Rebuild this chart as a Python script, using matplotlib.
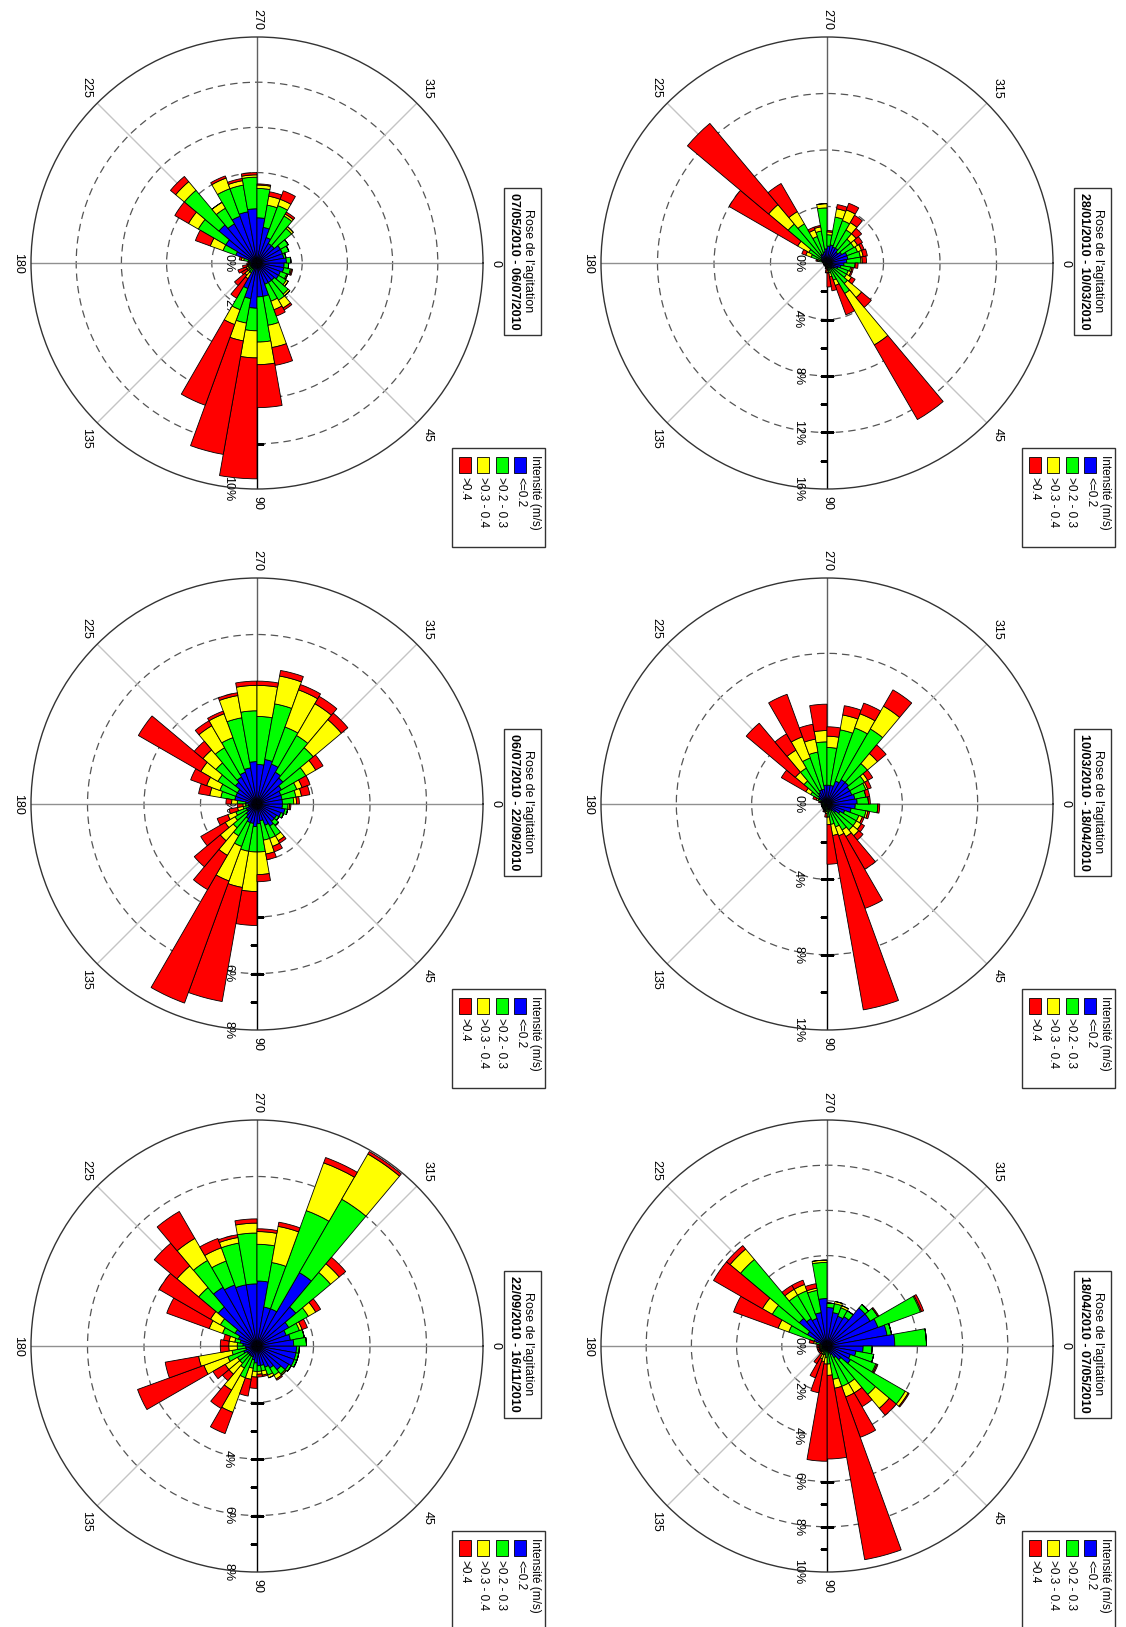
import numpy as np
import matplotlib
matplotlib.use("Agg")
import matplotlib.pyplot as plt
import matplotlib.transforms as mtransforms
from matplotlib.patches import Rectangle

plt.rcParams['font.family'] = ['Liberation Sans', 'DejaVu Sans']

# ---- data: % of time per 10 degree sector, split by intensity class ----
directions = np.arange(5, 360, 10)          # sector centres (deg)
classes = ["<=0.2", ">0.2 - 0.3", ">0.3 - 0.4", ">0.4"]
colors = ["#0000ff", "#00ff00", "#ffff00", "#ff0000"]
periods = ["28/01/2010 - 10/03/2010", "10/03/2010 - 18/04/2010", "18/04/2010 - 07/05/2010",
           "07/05/2010 - 06/07/2010", "06/07/2010 - 22/09/2010", "22/09/2010 - 16/11/2010"]
rmax_list = [16, 12, 10, 10, 8, 8]
ring_step = [4, 4, 2, 2, 2, 2]

p1_blue = [1.2, 1.0, 0.8, 0.6, 0.5, 0.5, 0.3, 0.2, 0.2, 0.3, 0.2, 0.2, 0.2, 0.2, 0.2, 0.2, 0.2, 0.2,
           0.2, 0.3, 0.4, 0.5, 0.6, 0.7, 0.7, 0.8, 1.0, 1.2, 1.3, 1.2, 1.2, 1.0, 1.2, 1.5, 1.5, 1.4]
p1_green = [0.8, 0.7, 0.8, 1.0, 1.4, 2.0, 1.0, 0.5, 0.3, 0.1, 0.1, 0.05, 0.05, 0.05, 0.05, 0.05, 0.05, 0.05,
            0.1, 0.3, 0.8, 1.0, 3.0, 2.5, 1.3, 1.5, 2.9, 0.8, 2.0, 2.0, 1.5, 1.2, 1.0, 0.8, 0.9, 1.0]
p1_yellow = [0.0, 0.1, 0.2, 0.4, 1.3, 4.2, 0.4, 0.3, 0.2, 0.0, 0.0, 0.0, 0.0, 0.0, 0.0, 0.0, 0.0, 0.0,
             0.0, 0.1, 0.4, 0.9, 1.8, 1.0, 0.5, 0.3, 0.3, 0.2, 0.6, 0.8, 0.6, 0.5, 0.3, 0.3, 0.2, 0.1]
p1_red = [0.2, 0.1, 0.1, 0.3, 0.9, 6.1, 2.2, 1.0, 1.0, 0.3, 0.1, 0.0, 0.0, 0.0, 0.0, 0.0, 0.0, 0.0,
          0.0, 0.1, 0.3, 5.6, 7.5, 2.3, 0.2, 0.1, 0.0, 0.1, 0.3, 0.5, 0.6, 0.5, 0.4, 0.2, 0.3, 0.3]

p2_blue = [1.5, 1.3, 1.0, 0.8, 0.6, 0.4, 0.3, 0.3, 0.2, 0.2, 0.2, 0.2, 0.2, 0.2, 0.2, 0.2, 0.2, 0.2,
           0.2, 0.2, 0.3, 0.5, 0.6, 0.7, 0.8, 0.8, 1.0, 1.0, 1.0, 1.3, 1.5, 1.5, 1.4, 1.4, 1.5, 1.6]
p2_green = [1.2, 0.8, 0.8, 1.0, 1.2, 1.2, 1.0, 0.8, 0.5, 0.2, 0.1, 0.1, 0.1, 0.1, 0.1, 0.1, 0.1, 0.1,
            0.1, 0.1, 0.2, 0.5, 1.0, 1.5, 1.8, 2.0, 2.3, 2.0, 3.0, 3.0, 3.1, 1.3, 0.9, 0.8, 0.6, 0.6]
p2_yellow = [0.0, 0.1, 0.2, 0.3, 0.4, 0.4, 0.5, 0.6, 0.4, 0.1, 0.05, 0.05, 0.0, 0.0, 0.0, 0.0, 0.0, 0.0,
             0.0, 0.05, 0.1, 0.3, 0.6, 1.1, 1.2, 0.7, 0.6, 0.6, 0.8, 0.8, 1.4, 0.7, 0.2, 0.1, 0.0, 0.0]
p2_red = [0.1, 0.1, 0.1, 0.2, 0.3, 2.0, 4.1, 9.4, 2.1, 0.2, 0.1, 0.1, 0.05, 0.0, 0.0, 0.0, 0.0, 0.0,
          0.0, 0.1, 0.2, 1.5, 3.4, 1.0, 2.4, 0.8, 1.4, 0.5, 0.5, 0.6, 1.0, 0.6, 0.3, 0.2, 0.2, 0.1]

p3_blue = [1.6, 1.3, 1.1, 1.2, 0.8, 0.6, 0.4, 0.3, 0.2, 0.2, 0.2, 0.2, 0.2, 0.2, 0.2, 0.2, 0.2, 0.2,
           0.2, 0.3, 0.6, 1.0, 1.6, 1.4, 1.3, 1.5, 2.1, 1.7, 1.5, 1.4, 1.5, 2.2, 2.2, 2.4, 2.7, 3.0]
p3_green = [0.4, 0.8, 1.2, 2.8, 2.0, 1.3, 1.5, 1.2, 0.6, 0.3, 0.2, 0.2, 0.1, 0.1, 0.1, 0.1, 0.1, 0.1,
            0.1, 0.2, 1.2, 1.8, 3.4, 1.2, 1.3, 1.0, 1.6, 0.2, 0.4, 0.4, 0.3, 0.2, 0.4, 2.0, 0.2, 1.4]
p3_yellow = [0.0, 0.0, 0.05, 0.15, 0.8, 0.5, 0.5, 0.4, 0.5, 0.3, 0.3, 0.2, 0.1, 0.05, 0.05, 0.05, 0.05, 0.05,
             0.05, 0.1, 0.5, 0.5, 0.6, 0.3, 0.3, 0.1, 0.1, 0.0, 0.1, 0.1, 0.0, 0.0, 0.0, 0.05, 0.0, 0.0]
p3_red = [0.0, 0.0, 0.05, 0.05, 0.4, 0.7, 1.9, 7.7, 3.7, 4.3, 1.4, 0.9, 0.5, 0.1, 0.1, 0.1, 0.1, 0.1,
          0.1, 0.2, 2.1, 2.5, 0.2, 0.2, 0.2, 0.2, 0.0, 0.0, 0.0, 0.0, 0.0, 0.0, 0.05, 0.1, 0.0, 0.0]

p4_blue = [1.2, 1.2, 1.1, 1.1, 1.0, 1.0, 1.0, 1.5, 1.5, 2.0, 1.6, 1.2, 0.3, 0.3, 0.3, 0.3, 0.3, 0.3,
           0.3, 0.4, 1.0, 1.6, 2.2, 2.0, 2.2, 2.3, 2.4, 2.0, 1.6, 1.2, 1.0, 1.0, 1.2, 1.2, 1.2, 1.3]
p4_green = [0.2, 0.3, 0.3, 0.4, 0.8, 0.9, 0.8, 1.3, 2.0, 1.0, 1.1, 1.0, 0.2, 0.2, 0.1, 0.1, 0.1, 0.05,
            0.05, 0.2, 0.6, 1.4, 2.0, 0.8, 1.3, 1.2, 1.4, 1.3, 1.0, 1.5, 1.4, 1.0, 0.4, 0.3, 0.1, 0.2]
p4_yellow = [0.0, 0.05, 0.05, 0.1, 0.1, 0.4, 0.4, 1.0, 1.0, 1.2, 0.8, 0.7, 0.3, 0.2, 0.1, 0.1, 0.05, 0.0,
             0.0, 0.1, 0.6, 0.5, 0.5, 0.3, 0.5, 0.2, 0.1, 0.15, 0.4, 0.3, 0.1, 0.1, 0.0, 0.0, 0.0, 0.0]
p4_red = [0.0, 0.05, 0.0, 0.0, 0.0, 0.1, 0.3, 0.8, 1.9, 5.35, 5.1, 3.8, 1.0, 0.6, 0.3, 0.4, 0.2, 0.1,
          0.05, 0.1, 0.7, 0.7, 0.3, 0.0, 0.1, 0.1, 0.1, 0.05, 0.2, 0.4, 0.1, 0.0, 0.0, 0.0, 0.0, 0.0]

p5_blue = [0.9, 1.0, 0.9, 0.8, 0.8, 0.9, 0.8, 0.6, 0.7, 0.8, 0.7, 0.7, 0.6, 0.5, 0.4, 0.4, 0.3, 0.3,
           0.4, 0.8, 0.8, 0.8, 1.0, 1.1, 1.2, 1.3, 1.5, 1.4, 1.6, 1.5, 1.3, 1.2, 1.0, 0.9, 0.9, 0.9]
p5_green = [0.2, 0.1, 0.1, 0.1, 0.2, 0.4, 0.5, 0.7, 1.0, 0.9, 1.0, 0.9, 0.7, 0.6, 0.5, 0.4, 0.2, 0.1,
            0.3, 0.5, 0.6, 0.8, 0.9, 1.2, 1.3, 1.8, 1.8, 1.7, 2.0, 1.4, 1.5, 1.4, 1.0, 0.6, 0.5, 0.4]
p5_yellow = [0.05, 0.0, 0.0, 0.0, 0.0, 0.2, 0.3, 0.5, 0.8, 1.4, 1.3, 1.3, 0.8, 0.6, 0.4, 0.3, 0.2, 0.1,
             0.2, 0.4, 0.5, 0.7, 0.6, 0.9, 0.9, 0.8, 0.9, 1.1, 1.0, 1.4, 1.3, 1.3, 0.4, 0.2, 0.2, 0.1]
p5_red = [0.05, 0.0, 0.0, 0.0, 0.0, 0.1, 0.2, 0.2, 0.25, 1.2, 4.1, 4.6, 1.4, 1.2, 1.0, 0.4, 0.3, 0.2,
          0.2, 0.4, 0.6, 2.55, 0.4, 0.2, 0.1, 0.1, 0.15, 0.15, 0.2, 0.2, 0.3, 0.3, 0.3, 0.3, 0.3, 0.1]

p6_blue = [1.4, 1.4, 1.4, 1.3, 1.1, 0.9, 0.8, 0.7, 0.7, 0.6, 0.5, 0.4, 0.4, 0.4, 0.4, 0.5, 0.4, 0.4,
           0.5, 0.6, 0.7, 0.9, 1.8, 2.4, 2.3, 2.2, 2.2, 2.3, 1.4, 1.4, 3.0, 1.8, 1.3, 1.1, 1.2, 1.3]
p6_green = [0.1, 0.1, 0.1, 0.1, 0.2, 0.3, 0.3, 0.2, 0.2, 0.3, 0.3, 0.8, 0.5, 0.4, 0.4, 0.6, 0.5, 0.3,
            0.2, 0.2, 0.6, 0.6, 0.9, 1.1, 0.9, 1.5, 1.8, 1.3, 1.6, 3.7, 3.0, 1.6, 0.8, 0.5, 0.5, 0.45]
p6_yellow = [0.0, 0.0, 0.0, 0.0, 0.05, 0.15, 0.1, 0.15, 0.1, 0.2, 0.4, 1.3, 0.9, 0.5, 0.5, 0.9, 1.2, 0.3,
             0.3, 0.2, 0.5, 0.4, 1.0, 0.9, 0.5, 0.2, 0.35, 0.45, 1.3, 1.8, 1.85, 0.4, 0.3, 0.1, 0.0, 0.0]
p6_red = [0.0, 0.0, 0.0, 0.0, 0.0, 0.05, 0.0, 0.05, 0.1, 0.4, 0.6, 0.8, 0.75, 0.3, 0.5, 2.5, 1.2, 0.3,
          0.3, 0.2, 1.6, 2.1, 1.05, 1.1, 0.35, 0.1, 0.15, 0.1, 0.15, 0.2, 0.1, 0.3, 0.2, 0.2, 0.0, 0.0]

roses = [
    (p1_blue, p1_green, p1_yellow, p1_red),
    (p2_blue, p2_green, p2_yellow, p2_red),
    (p3_blue, p3_green, p3_yellow, p3_red),
    (p4_blue, p4_green, p4_yellow, p4_red),
    (p5_blue, p5_green, p5_yellow, p5_red),
    (p6_blue, p6_green, p6_yellow, p6_red),
]

# ---- page layout (pixels, page is rotated 90 degrees) ----
W, H = 1126, 1627
R = 226
centres = [(827, 263), (827, 804), (827, 1346), (257, 263), (257, 804), (257, 1346)]

fig = plt.figure(figsize=(W / 100, H / 100), dpi=100)


def fx(x):
    return x / W


def fy(y):
    return 1 - y / H


def draw_rose(cx, cy, parts, rmax, step, period):
    ax = fig.add_axes([fx(cx - R), fy(cy + R), 2 * R / W, 2 * R / H], projection='polar')
    ax.set_theta_zero_location('E')
    ax.set_theta_direction(-1)
    ax.set_ylim(0, rmax)
    ax.set_axisbelow(True)

    rings = np.arange(step, rmax, step)
    ax.set_yticks(rings)
    ax.set_yticklabels([])
    ax.yaxis.grid(True, linestyle=(0, (6, 4)), color='#555555', linewidth=0.9)
    ax.tick_params(axis='y', length=0)

    ax.xaxis.grid(False)
    ax.set_xticks(np.deg2rad([0, 90, 180, 270]))
    ax.set_xticks(np.deg2rad(np.arange(0, 360, 15)), minor=True)
    ax.set_xticklabels([])
    ax.tick_params(axis='x', which='major', direction='in', length=12, width=1.3, color='#333333')
    ax.tick_params(axis='x', which='minor', direction='in', length=6, width=0.8, color='#333333')
    ax.spines['polar'].set_linewidth(1.0)
    ax.spines['polar'].set_color('#333333')

    # spokes
    spoke_col = {0: '#909090', 45: '#c4c4c4', 90: 'black', 135: '#c4c4c4',
                 180: '#909090', 225: '#c4c4c4', 270: '#606060', 315: '#c4c4c4'}
    for a, c in spoke_col.items():
        ax.plot([np.deg2rad(a)] * 2, [0, rmax], color=c, lw=1.0, zorder=0.8)

    # radial axis ticks along the 90 line
    ax.plot(np.full(len(rings), np.pi / 2), rings, ls='none', marker='_', ms=10,
            mew=0.8, color='black', zorder=0.9)
    minors = np.arange(step / 2, rmax, step)
    ax.plot(np.full(len(minors), np.pi / 2), minors, ls='none', marker=0,
            ms=5, mew=0.8, color='black', zorder=0.9)

    # radial labels (under the bars)
    off = mtransforms.offset_copy(ax.transData, fig=fig, x=-29, y=0, units='dots')
    for v in np.arange(0, rmax + step / 2, step):
        ax.text(np.pi / 2, v, f"{int(v)}%", transform=off, rotation=-90,
                ha='center', va='center', fontsize=9, zorder=1)

    # theta labels
    for a in range(0, 360, 45):
        t = np.deg2rad(a)
        dx, dy = np.cos(t), -np.sin(t)
        ha = 'left' if dx > 0.3 else ('right' if dx < -0.3 else 'center')
        va = 'bottom' if dy > 0.3 else ('top' if dy < -0.3 else 'center')
        ax.annotate(str(a), xy=(t, rmax), xytext=(5 * dx, 5 * dy), textcoords='offset points',
                    rotation=-90, ha=ha, va=va, fontsize=9, annotation_clip=False)

    # stacked bars
    theta = np.deg2rad(directions)
    bottom = np.zeros(len(directions))
    for vals, col in zip(parts, colors):
        vals = np.array(vals)
        ax.bar(theta, vals, width=np.deg2rad(10), bottom=bottom, color=col,
               edgecolor='black', linewidth=0.6, zorder=2)
        bottom = bottom + vals

    # title box
    fig.add_artist(Rectangle((fx(cx + 247), fy(cy + 72)), 37 / W, 147 / H, transform=fig.transFigure,
                             facecolor='white', edgecolor='#333333', lw=1.0))
    fig.text(fx(cx + 271), fy(cy - 2), "Rose de l'agitation", rotation=-90,
             ha='center', va='center', fontsize=9)
    fig.text(fx(cx + 257), fy(cy - 2), period, rotation=-90, ha='center', va='center',
             fontsize=9, fontweight='bold')

    # legend box
    fig.add_artist(Rectangle((fx(cx + 195), fy(cy + 284)), 93 / W, 99 / H, transform=fig.transFigure,
                             facecolor='white', edgecolor='#333333', lw=1.0))
    fig.text(fx(cx + 278), fy(cy + 192), "Intensité (m/s)", rotation=-90,
             ha='center', va='top', fontsize=8.5)
    for k, (lab, col) in enumerate(zip(classes, colors)):
        px = cx + 263 - 18.5 * k
        fig.add_artist(Rectangle((fx(px - 6), fy(cy + 210)), 12 / W, 16 / H, transform=fig.transFigure,
                                 facecolor=col, edgecolor='black', lw=0.6))
        fig.text(fx(px), fy(cy + 214), lab, rotation=-90, ha='center', va='top', fontsize=8.5)


for (cx, cy), parts, rmax, step, period in zip(centres, roses, rmax_list, ring_step, periods):
    draw_rose(cx, cy, parts, rmax, step, period)

fig.savefig("out.png", dpi=100)
